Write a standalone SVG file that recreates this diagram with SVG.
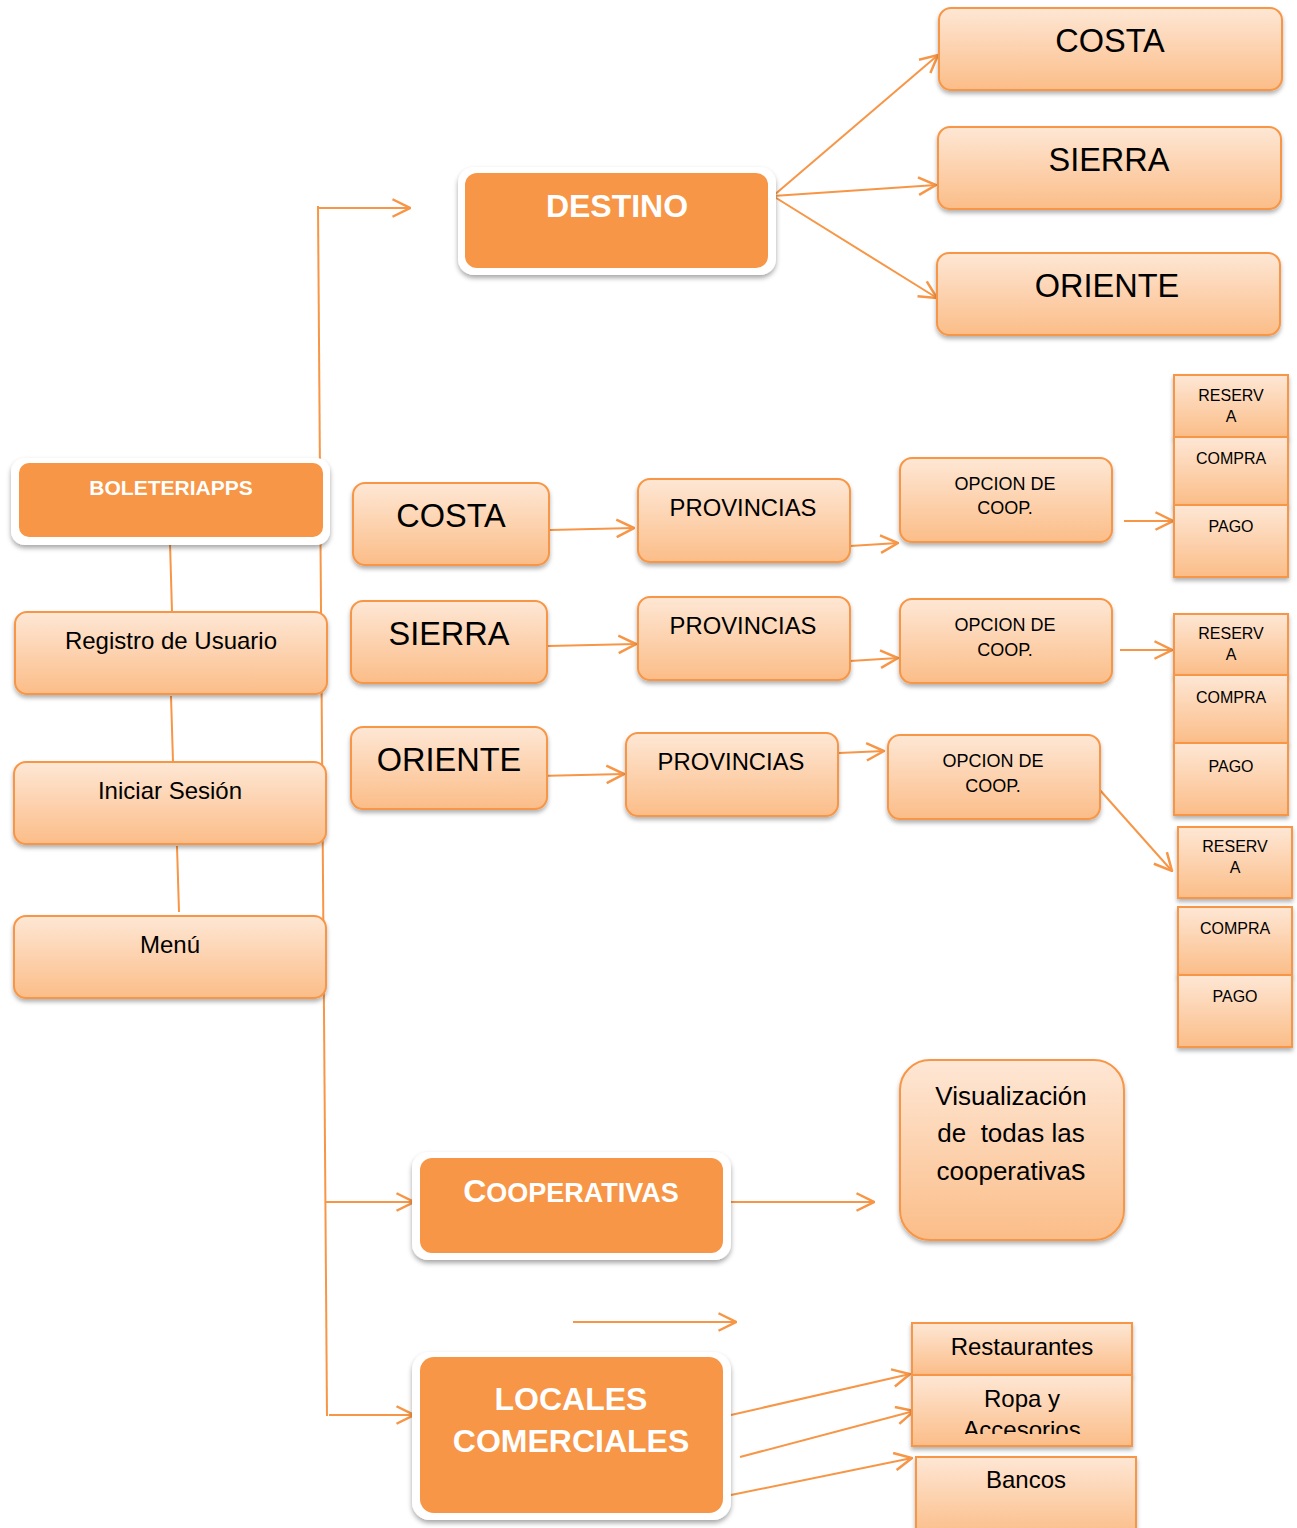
<svg xmlns="http://www.w3.org/2000/svg" width="1297" height="1528" viewBox="0 0 1297 1528">
<style>
.c{fill:none;stroke:#F79646;stroke-width:2;}
.ca{fill:none;stroke:#F79646;stroke-width:2;marker-end:url(#arr);}
.lt{fill:url(#g);stroke:#F79646;stroke-width:2;filter:url(#sh);}
.sq{fill:url(#g);stroke:#F79646;stroke-width:2;filter:url(#sh);}
.wo{fill:#fff;filter:url(#sh2);}
.dk{fill:#F79646;}
.t{font-family:"Liberation Sans",Arial,sans-serif;fill:#000;text-anchor:middle;}
.tw{font-family:"Liberation Sans",Arial,sans-serif;fill:#fff;text-anchor:middle;font-weight:bold;}
</style>
<defs>
<linearGradient id="g" x1="0" y1="0" x2="0" y2="1">
<stop offset="0" stop-color="#FEE7D5"/>
<stop offset="1" stop-color="#FBBD88"/>
</linearGradient>
<filter id="sh" x="-10%" y="-10%" width="120%" height="130%">
<feDropShadow dx="0" dy="3" stdDeviation="2" flood-color="#000" flood-opacity="0.3"/>
</filter>
<filter id="sh2" x="-10%" y="-10%" width="120%" height="130%">
<feDropShadow dx="0" dy="3" stdDeviation="2.5" flood-color="#000" flood-opacity="0.35"/>
</filter>
<marker id="arr" markerUnits="userSpaceOnUse" markerWidth="20" markerHeight="20" refX="15" refY="8" orient="auto" viewBox="0 0 16 16">
<path d="M1,1 L15,8 L1,15" fill="none" stroke="#F79646" stroke-width="2"/>
</marker>
<clipPath id="ropaclip"><rect x="912" y="1375" width="220" height="59"/></clipPath>
</defs>

<g id="connectors">
<line class="c" x1="318" y1="206" x2="327" y2="1416"/>
<line class="ca" x1="318" y1="208" x2="410" y2="208"/>
<line class="ca" x1="326" y1="1202" x2="414" y2="1202"/>
<line class="ca" x1="329" y1="1415" x2="414" y2="1415"/>
<line class="c" x1="170" y1="543" x2="172" y2="612"/>
<line class="c" x1="171" y1="696" x2="173" y2="762"/>
<line class="c" x1="177" y1="846" x2="179" y2="912"/>
<line class="ca" x1="773" y1="196" x2="938" y2="55"/>
<line class="ca" x1="773" y1="196" x2="936" y2="185"/>
<line class="ca" x1="773" y1="196" x2="937" y2="298"/>
<line class="ca" x1="550" y1="530" x2="634" y2="528"/>
<line class="ca" x1="548" y1="646" x2="636" y2="644"/>
<line class="ca" x1="538" y1="776" x2="624" y2="774"/>
<line class="ca" x1="850" y1="546" x2="898" y2="543"/>
<line class="ca" x1="850" y1="661" x2="898" y2="658"/>
<line class="ca" x1="839" y1="753" x2="884" y2="751"/>
<line class="ca" x1="1124" y1="521" x2="1173" y2="521"/>
<line class="ca" x1="1120" y1="650" x2="1172" y2="650"/>
<line class="ca" x1="1099" y1="789" x2="1172" y2="871"/>
<line class="ca" x1="731" y1="1202" x2="874" y2="1202"/>
<line class="ca" x1="573" y1="1322" x2="736" y2="1322"/>
<line class="ca" x1="731" y1="1415" x2="910" y2="1374"/>
<line class="ca" x1="740" y1="1457" x2="914" y2="1411"/>
<line class="ca" x1="731" y1="1495" x2="912" y2="1458"/>
</g>

<g id="destino">
<rect class="wo" x="458" y="167" width="318" height="108" rx="16"/>
<rect class="dk" x="465" y="173" width="303" height="95" rx="12"/>
<text class="tw" x="617" y="217" font-size="32">DESTINO</text>
</g>
<g id="costa-top">
<rect class="lt" x="939" y="8" width="343" height="82" rx="12"/>
<text class="t" x="1110" y="52" font-size="32.5">COSTA</text>
</g>
<g id="sierra-top">
<rect class="lt" x="938" y="127" width="343" height="82" rx="12"/>
<text class="t" x="1109" y="171" font-size="32.5">SIERRA</text>
</g>
<g id="oriente-top">
<rect class="lt" x="937" y="253" width="343" height="82" rx="12"/>
<text class="t" x="1107" y="297" font-size="32.5">ORIENTE</text>
</g>

<g id="boleteriapps">
<rect class="wo" x="11" y="458" width="319" height="87" rx="14"/>
<rect class="dk" x="19" y="463" width="304" height="74" rx="10"/>
<text class="tw" x="171" y="495" font-size="21">BOLETERIAPPS</text>
</g>
<g id="registro">
<rect class="lt" x="15" y="612" width="312" height="82" rx="12"/>
<text class="t" x="171" y="649" font-size="24">Registro de Usuario</text>
</g>
<g id="iniciar">
<rect class="lt" x="14" y="762" width="312" height="82" rx="12"/>
<text class="t" x="170" y="799" font-size="24">Iniciar Sesión</text>
</g>
<g id="menu">
<rect class="lt" x="14" y="916" width="312" height="82" rx="12"/>
<text class="t" x="170" y="953" font-size="24">Menú</text>
</g>

<g id="costa-mid">
<rect class="lt" x="353" y="483" width="196" height="82" rx="12"/>
<text class="t" x="451" y="527" font-size="32.5">COSTA</text>
</g>
<g id="sierra-mid">
<rect class="lt" x="351" y="601" width="196" height="82" rx="12"/>
<text class="t" x="449" y="645" font-size="32.5">SIERRA</text>
</g>
<g id="oriente-mid">
<rect class="lt" x="351" y="727" width="196" height="82" rx="12"/>
<text class="t" x="449" y="771" font-size="32.5">ORIENTE</text>
</g>

<g id="provincias-1">
<rect class="lt" x="638" y="479" width="212" height="83" rx="12"/>
<text class="t" x="743" y="516" font-size="23.8">PROVINCIAS</text>
</g>
<g id="provincias-2">
<rect class="lt" x="638" y="597" width="212" height="83" rx="12"/>
<text class="t" x="743" y="634" font-size="23.8">PROVINCIAS</text>
</g>
<g id="provincias-3">
<rect class="lt" x="626" y="733" width="212" height="83" rx="12"/>
<text class="t" x="731" y="770" font-size="23.8">PROVINCIAS</text>
</g>

<g id="opcion-1">
<rect class="lt" x="900" y="458" width="212" height="84" rx="12"/>
<text class="t" x="1005" y="490" font-size="18">OPCION DE</text>
<text class="t" x="1005" y="514" font-size="18">COOP.</text>
</g>
<g id="opcion-2">
<rect class="lt" x="900" y="599" width="212" height="84" rx="12"/>
<text class="t" x="1005" y="631" font-size="18">OPCION DE</text>
<text class="t" x="1005" y="656" font-size="18">COOP.</text>
</g>
<g id="opcion-3">
<rect class="lt" x="888" y="735" width="212" height="84" rx="12"/>
<text class="t" x="993" y="767" font-size="18">OPCION DE</text>
<text class="t" x="993" y="792" font-size="18">COOP.</text>
</g>

<g id="grupo-1">
<rect class="sq" x="1174" y="375" width="114" height="62"/>
<text class="t" x="1231" y="401" font-size="16">RESERV</text>
<text class="t" x="1231" y="422" font-size="16">A</text>
<rect class="sq" x="1174" y="437" width="114" height="68"/>
<text class="t" x="1231" y="464" font-size="16">COMPRA</text>
<rect class="sq" x="1174" y="505" width="114" height="72"/>
<text class="t" x="1231" y="532" font-size="16">PAGO</text>
</g>
<g id="grupo-2">
<rect class="sq" x="1174" y="614" width="114" height="61"/>
<text class="t" x="1231" y="639" font-size="16">RESERV</text>
<text class="t" x="1231" y="660" font-size="16">A</text>
<rect class="sq" x="1174" y="675" width="114" height="68"/>
<text class="t" x="1231" y="703" font-size="16">COMPRA</text>
<rect class="sq" x="1174" y="743" width="114" height="72"/>
<text class="t" x="1231" y="772" font-size="16">PAGO</text>
</g>
<g id="grupo-3">
<rect class="sq" x="1178" y="827" width="114" height="71"/>
<text class="t" x="1235" y="852" font-size="16">RESERV</text>
<text class="t" x="1235" y="873" font-size="16">A</text>
<rect class="sq" x="1178" y="907" width="114" height="68"/>
<text class="t" x="1235" y="934" font-size="16">COMPRA</text>
<rect class="sq" x="1178" y="975" width="114" height="72"/>
<text class="t" x="1235" y="1002" font-size="16">PAGO</text>
</g>

<g id="cooperativas">
<rect class="wo" x="412" y="1152" width="319" height="108" rx="16"/>
<rect class="dk" x="420" y="1158" width="303" height="95" rx="12"/>
<text class="tw" x="571" y="1202"><tspan font-size="32">C</tspan><tspan font-size="27">OOPERATIVAS</tspan></text>
</g>
<g id="visualizacion">
<rect class="lt" x="900" y="1060" width="224" height="180" rx="30"/>
<text class="t" x="1011" y="1105" font-size="26">Visualización</text>
<text class="t" x="1011" y="1142" font-size="26" xml:space="preserve">de  todas las</text>
<text class="t" x="1011" y="1180" font-size="26">cooperativa<tspan font-size="29">s</tspan></text>
</g>

<g id="locales">
<rect class="wo" x="412" y="1352" width="319" height="168" rx="18"/>
<rect class="dk" x="420" y="1357" width="303" height="156" rx="14"/>
<text class="tw" x="571" y="1410" font-size="32">LOCALES</text>
<text class="tw" x="571" y="1452" font-size="32">COMERCIALES</text>
</g>
<g id="restaurantes">
<rect class="sq" x="912" y="1323" width="220" height="52"/>
<text class="t" x="1022" y="1355" font-size="24">Restaurantes</text>
</g>
<g id="ropa">
<rect class="sq" x="912" y="1375" width="220" height="71"/>
<text class="t" x="1022" y="1407" font-size="24">Ropa y</text>
<text class="t" x="1022" y="1438" font-size="24" clip-path="url(#ropaclip)">Accesorios</text>
</g>
<g id="bancos">
<rect class="sq" x="916" y="1457" width="220" height="80"/>
<text class="t" x="1026" y="1488" font-size="24">Bancos</text>
</g>
</svg>
